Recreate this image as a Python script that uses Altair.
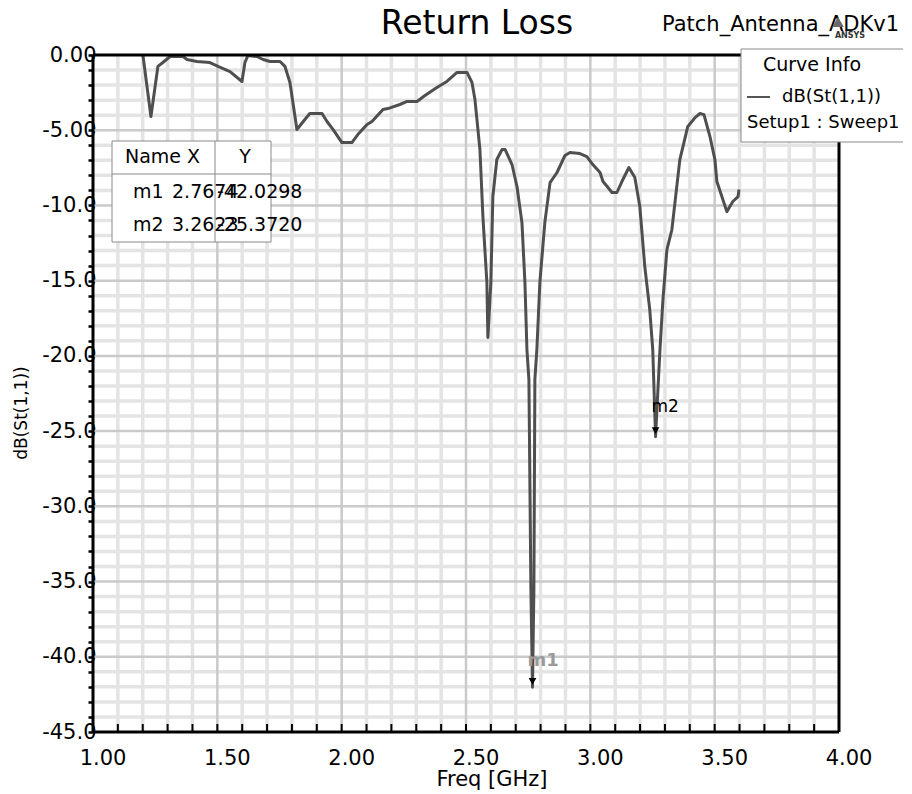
import altair as alt
import pandas as pd

FONT = "DejaVu Sans"

# ---------------- data ----------------
freq_ghz = [1.201, 1.233, 1.261, 1.281, 1.310, 1.362, 1.378, 1.418, 1.470, 1.503,
            1.551, 1.599, 1.611, 1.623, 1.659, 1.684, 1.712, 1.752, 1.772, 1.792,
            1.820, 1.852, 1.872, 1.921, 1.941, 1.965, 2.001, 2.041, 2.065, 2.102,
            2.122, 2.166, 2.186, 2.234, 2.263, 2.303, 2.335, 2.383, 2.423, 2.464,
            2.504, 2.524, 2.536, 2.556, 2.568, 2.584, 2.588, 2.600, 2.608, 2.624,
            2.645, 2.657, 2.685, 2.705, 2.725, 2.737, 2.745, 2.753, 2.761, 2.7674,
            2.773, 2.777, 2.785, 2.797, 2.817, 2.838, 2.866, 2.898, 2.918, 2.958,
            2.986, 3.010, 3.039, 3.051, 3.071, 3.087, 3.107, 3.127, 3.155, 3.179,
            3.199, 3.219, 3.239, 3.251, 3.2623, 3.280, 3.292, 3.308, 3.328, 3.360,
            3.392, 3.421, 3.441, 3.457, 3.481, 3.501, 3.509, 3.549, 3.573, 3.594,
            3.598]
s11_db = [-0.05, -4.09, -0.76, -0.50, -0.10, -0.10, -0.30, -0.43, -0.50, -0.76,
          -1.10, -1.76, -0.50, -0.03, -0.10, -0.30, -0.43, -0.43, -0.76, -1.83,
          -4.95, -4.29, -3.89, -3.89, -4.42, -4.95, -5.82, -5.82, -5.29, -4.62,
          -4.42, -3.62, -3.56, -3.29, -3.09, -3.09, -2.69, -2.16, -1.76, -1.16,
          -1.16, -1.83, -2.96, -6.28, -10.74, -15.13, -18.78, -15.13, -9.41, -6.95,
          -6.28, -6.28, -7.28, -8.74, -11.14, -15.13, -19.58, -21.58, -35.54, -42.0298,
          -35.54, -21.58, -19.58, -15.13, -11.14, -8.48, -7.81, -6.68, -6.48, -6.55,
          -6.75, -7.28, -7.81, -8.41, -8.81, -9.14, -9.14, -8.41, -7.48, -8.14,
          -10.07, -14.06, -16.92, -19.58, -25.372, -19.58, -16.26, -12.93, -11.60, -6.95,
          -4.75, -4.16, -3.89, -3.96, -5.42, -6.95, -8.41, -10.41, -9.74, -9.41,
          -8.94]

marker_names = ["m1", "m2"]
marker_freq = [2.7674, 3.2623]
marker_db = [-42.0298, -25.3720]

x_domain = [1.0, 4.0]
y_domain = [-45.0, 0.0]
x_tick_values = [round(1.0 + 0.1 * i, 1) for i in range(31)]
y_tick_values = [float(-i) for i in range(46)]
x_label_values = [1.0, 1.5, 2.0, 2.5, 3.0, 3.5, 4.0]
x_major = [1.5, 2.0, 2.5, 3.0, 3.5]
y_major = [-5.0, -10.0, -15.0, -20.0, -25.0, -30.0, -35.0, -40.0]
x_minor = [v for v in x_tick_values if v not in x_major and v not in x_domain]
y_minor = [v for v in y_tick_values if v not in y_major and v not in y_domain]

title_text = "Return Loss"
project_text = "Patch_Antenna_ADKv1"
x_title = "Freq [GHz]"
y_title = "dB(St(1,1))"
legend_title = "Curve Info"
legend_curve = "dB(St(1,1))"
legend_setup = "Setup1 : Sweep1"

# ---------------- layout (pixels) ----------------
OX, OY = 93, 55           # plot origin on page
W, H = 746, 677

def px(x):
    return x - OX

def py(y):
    return y - OY

xs = alt.Scale(domain=x_domain, nice=False, zero=False)
ys = alt.Scale(domain=y_domain, nice=False, zero=False)

curve_df = pd.DataFrame({"f": freq_ghz, "db": s11_db, "i": list(range(len(freq_ghz)))})
mk_df = pd.DataFrame({"name": marker_names, "f": marker_freq, "db": marker_db})
one = pd.DataFrame({"a": [0]})

x_axis = alt.Axis(
    values=x_tick_values, labels=False, ticks=False,
    title=None, grid=False, domain=False,
)
y_axis = alt.Axis(
    values=y_tick_values,
    labelExpr="datum.value % 5 != 0 ? '' : (datum.value == 0 ? '0.00' : (datum.value > -10 ? '-' + format(-datum.value, '.2f') : '-' + format(-datum.value, '.1f')))",
    title=None, grid=False, domain=False,
    tickColor="black", tickWidth=2.5, tickSize=5,
    labelFont=FONT, labelFontSize=21, labelColor="black",
    labelPadding=-8, labelOverlap=False, labelFlush=False,
)

X = lambda: alt.X("f:Q", scale=xs, axis=x_axis)
Y = lambda: alt.Y("db:Q", scale=ys, axis=y_axis)

# grid
grid_minor_x = alt.Chart(pd.DataFrame({"f": x_minor})).mark_rule(color="#e4e4e4", strokeWidth=3.5).encode(x=X())
grid_minor_y = alt.Chart(pd.DataFrame({"db": y_minor})).mark_rule(color="#e4e4e4", strokeWidth=3.5).encode(y=Y())
grid_major_x = alt.Chart(pd.DataFrame({"f": x_major})).mark_rule(color="#cacaca", strokeWidth=2.5).encode(x=X())
grid_major_y = alt.Chart(pd.DataFrame({"db": y_major})).mark_rule(color="#cacaca", strokeWidth=2.5).encode(y=Y())

# x tick marks pointing into the plot, as in the source
x_ticks = alt.Chart(pd.DataFrame({"f": x_tick_values})).mark_tick(
    color="black", thickness=2, size=8, orient="vertical", opacity=1).encode(
    x=X(), y=alt.value(H - 4))

# x tick labels (shifted right of the tick like the source)
x_labels = alt.Chart(pd.DataFrame({"f": x_label_values})).mark_text(
    font=FONT, fontSize=21, color="black", align="center", baseline="alphabetic", dx=10).encode(
    x=X(),
    y=alt.value(py(765)),
    text=alt.Text("f:Q", format=".2f"),
)

curve = alt.Chart(curve_df).mark_line(color="#4f4f4f", strokeWidth=3, strokeJoin="round").encode(
    x=X(), y=Y(), order="i:Q")

# frame
frame_x = alt.Chart(pd.DataFrame({"f": x_domain})).mark_rule(color="black", strokeWidth=3).encode(x=X())
frame_y = alt.Chart(pd.DataFrame({"db": y_domain})).mark_rule(color="black", strokeWidth=3).encode(y=Y())

# markers
mk_tri = alt.Chart(mk_df).mark_point(shape="triangle-down", filled=True, color="black",
                                     size=60, opacity=1, yOffset=-6).encode(x=X(), y=Y())
mk_lab1 = alt.Chart(mk_df).transform_filter("datum.name == 'm1'").mark_text(
    font=FONT, fontSize=18, fontWeight="bold", color="#9a9a9a", align="left", baseline="middle",
    dx=-5, dy=-26).encode(x=X(), y=Y(), text="name:N")
mk_lab2 = alt.Chart(mk_df).transform_filter("datum.name == 'm2'").mark_text(
    font=FONT, fontSize=17, color="black", align="left", baseline="middle",
    dx=-4, dy=-30).encode(x=X(), y=Y(), text="name:N")


def txt(s, x, y, size=19, align="left", color="black", weight="normal", angle=0, baseline="middle"):
    kw = dict(font=FONT, fontSize=size, align=align, baseline=baseline, color=color, fontWeight=weight)
    if angle:
        kw["angle"] = angle
    return alt.Chart(one).mark_text(**kw).encode(
        x=alt.value(px(x)), y=alt.value(py(y)), text=alt.value(s))


def box(x1, y1, x2, y2, stroke="#8a8a8a"):
    return alt.Chart(one).mark_rect(fill="white", stroke=stroke, strokeWidth=1).encode(
        x=alt.value(px(x1)), x2=alt.value(px(x2)), y=alt.value(py(y1)), y2=alt.value(py(y2)))


def seg(x1, y1, x2, y2, color="#8a8a8a", width=1):
    return alt.Chart(one).mark_rule(color=color, strokeWidth=width).encode(
        x=alt.value(px(x1)), x2=alt.value(px(x2)), y=alt.value(py(y1)), y2=alt.value(py(y2)))


# titles
title = txt(title_text, 477, 34, size=33, align="center", baseline="alphabetic")
project = txt(project_text, 662, 31, size=21, baseline="alphabetic")
logo_tri = alt.Chart(one).mark_point(shape="triangle-up", filled=True, color="#6a6a6a", size=140, opacity=1).encode(
    x=alt.value(px(838)), y=alt.value(py(22)))
logo_txt = txt("ANSYS", 850, 36, size=8, align="center", color="#333333", weight="bold")
xt = txt(x_title, 492, 786, size=21, align="center", baseline="alphabetic")
yt = txt(y_title, 22, 413, size=17, align="center", angle=270)

# legend box
leg_box = box(741, 49, 930, 142)
leg_t1 = txt(legend_title, 812, 65, size=19, align="center")
leg_line = seg(747, 97, 770, 97, color="#555555", width=2)
leg_t2 = txt(legend_curve, 782, 97, size=18)
leg_t3 = txt(legend_setup, 747, 123, size=18)

# marker table
tab_box = box(112, 141, 271, 242)
tab_h = seg(112, 174, 271, 174)
tab_v = seg(215, 141, 215, 242)
tab_hdr1 = txt("Name X", 125, 157, size=19)
tab_hdr2 = txt("Y", 245, 157, size=19, align="center")
rows = []
for k, (nm, fx, dy) in enumerate(zip(marker_names, marker_freq, marker_db)):
    yy = 192 + 33 * k
    rows.append(txt(nm, 133, yy, size=19))
    rows.append(txt(f"{fx:.4f}", 172, yy, size=19))
    rows.append(txt(f"{dy:.4f}", 217, yy, size=19))

chart = alt.layer(
    grid_minor_x, grid_minor_y, grid_major_x, grid_major_y, x_labels,
    curve, frame_x, frame_y, x_ticks, mk_tri, mk_lab1, mk_lab2,
    title, project, logo_tri, logo_txt, xt, yt,
    leg_box, leg_t1, leg_line, leg_t2, leg_t3,
    tab_box, tab_h, tab_v, tab_hdr1, tab_hdr2, *rows,
).properties(
    width=W, height=H,
    padding={"left": 85, "top": 47, "right": 64, "bottom": 61},
    autosize=alt.AutoSizeParams(type="none"),
    background="white",
).configure_view(stroke=None)

chart.save("out.html", embed_options={"renderer": "svg", "actions": False})
